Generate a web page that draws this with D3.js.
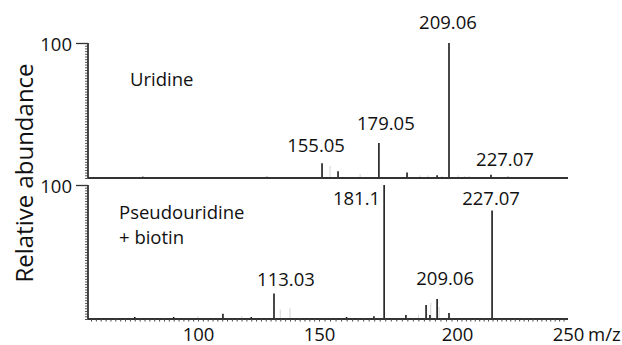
<!DOCTYPE html>
<html><head><meta charset="utf-8">
<script src="https://cdn.jsdelivr.net/npm/d3@7"></script>
<style>
body{margin:0;background:#fff}
svg{display:block}
text{font-family:"Open Sans",sans-serif;fill:#111}
</style>
</head><body>
<svg id="c" width="622" height="345"></svg>
<script>
// ---- data ----
const xTickValues = [56, 100, 150, 200, 250];       // scale anchor points (m/z as drawn)
const xTickLabels = [100, 150, 200, 250];
const yTickLabels = [100];
const panelTitles = [["Uridine"], ["Pseudouridine", "+ biotin"]];

// apparent m/z positions (as drawn on the axis) and relative abundance (%)
const uridinePos = [197.1, 171.7, 151.1, 215.3, 156.9, 181.9, 192.8, 77.3, 128.5, 223.0];
const uridineInt = [100, 26, 11, 2.5, 5, 4, 2, 1, 1, 1];
const uridineLabels = ["209.06", "179.05", "155.05", "227.07"];

const uridineNoisePos = [154.0, 164.9, 186.5, 189.5, 194.5, 200.5, 203.5, 205.5];
const uridineNoiseInt = [9, 3, 2, 2, 1.5, 2, 1.5, 1.5];

const pseudoPos = [173.6, 215.8, 131.4, 192.8, 188.8, 190.2, 197.1, 181.5, 169.9, 110.3, 74.0, 122.0, 90.0, 160.0];
const pseudoInt = [100, 81, 19, 15, 10.5, 3, 4.5, 3, 2, 4, 1.5, 1.5, 1.5, 1.5];
const pseudoLabels = ["181.1", "227.07", "113.03", "209.06"];

const pseudoNoisePos = [134.0, 138.0, 186.0, 190.5, 193.5, 100.0, 118.0];
const pseudoNoiseInt = [7, 8, 3, 12, 9, 2, 2];

// ---- layout ----
const svg = d3.select("#c");
const x = d3.scaleLinear().domain(xTickValues).range([91, 198, 319, 457, 568]);
const axisX0 = 88;
const panelsY = [[178, 43], [319, 185]];
const ys = panelsY.map(r => d3.scaleLinear().domain([0, 100]).range(r));

const labelLayout = [
  [{dx:-1,dy:-14,a:"middle"},{dx:7,dy:-13,a:"middle"},{dx:-6,dy:-11,a:"middle"},{dx:14,dy:-9,a:"middle"}],
  [{dx:-4,dy:20,a:"end"},{dx:-1,dy:-5,a:"middle"},{dx:12,dy:-8,a:"middle"},{dx:8,dy:-14,a:"middle"}]
];
const titleLayout = [{x:130, y:86, lh:0}, {x:119, y:219, lh:25}];

const series = [
  {pos: uridinePos, int: uridineInt, labels: uridineLabels, nPos: uridineNoisePos, nInt: uridineNoiseInt},
  {pos: pseudoPos, int: pseudoInt, labels: pseudoLabels, nPos: pseudoNoisePos, nInt: pseudoNoiseInt}
];

series.forEach((s, pi) => {
  const y = ys[pi];
  const g = svg.append("g");
  // faint noise
  g.selectAll("line.noise").data(s.nPos).enter().append("line")
    .attr("x1", d => x(d)).attr("x2", d => x(d))
    .attr("y1", y(0)).attr("y2", (d, i) => y(s.nInt[i]))
    .attr("stroke", "#d4d4d4").attr("stroke-width", 1);
  // peaks
  g.selectAll("line.peak").data(s.pos).enter().append("line")
    .attr("x1", d => x(d)).attr("x2", d => x(d))
    .attr("y1", y(0)).attr("y2", (d, i) => y(s.int[i]))
    .attr("stroke", "#1a1a1a").attr("stroke-width", 1.6);
  // peak labels
  s.labels.forEach((t, i) => {
    const L = labelLayout[pi][i];
    g.append("text").attr("x", x(s.pos[i]) + L.dx).attr("y", y(s.int[i]) + L.dy)
      .attr("text-anchor", L.a).attr("font-size", 18.5).text(t);
  });
  // title
  panelTitles[pi].forEach((t, k) => {
    g.append("text").attr("x", titleLayout[pi].x).attr("y", titleLayout[pi].y + k * titleLayout[pi].lh)
      .attr("font-size", 18.5).text(t);
  });
  // y axis: minor ticks
  const yMinor = d3.axisLeft(y).tickValues(d3.range(0, 100, 2)).tickSize(3).tickFormat("");
  const ga = g.append("g").attr("transform", `translate(${axisX0},0)`).call(yMinor);
  ga.select(".domain").remove();
  ga.selectAll("line").attr("stroke", "#555").attr("stroke-width", 1);
  // y axis major
  const yMajor = d3.axisLeft(y).tickValues(yTickLabels).tickSize(12).tickPadding(4);
  const gm = g.append("g").attr("transform", `translate(${axisX0},0)`).call(yMajor);
  gm.select(".domain").remove();
  gm.selectAll("line").attr("stroke", "#333").attr("stroke-width", 1.3);
  gm.selectAll("text").attr("font-size", 18.5).attr("font-family", "Open Sans").attr("fill", "#111").attr("dy", "0.4em");
  // axis lines
  g.append("line").attr("x1", axisX0).attr("x2", axisX0).attr("y1", y(100)).attr("y2", y(0))
    .attr("stroke", "#333").attr("stroke-width", 1.8);
  g.append("line").attr("x1", axisX0).attr("x2", x(250)).attr("y1", y(0)).attr("y2", y(0))
    .attr("stroke", "#333").attr("stroke-width", 1.8);
  if (pi === 1) {
    const xMinor = d3.axisBottom(x).tickValues(d3.range(56, 250, 2)).tickSize(2.5).tickFormat("");
    const gx = g.append("g").attr("transform", `translate(0,${y(0)})`).call(xMinor);
    gx.select(".domain").remove();
    gx.selectAll("line").attr("stroke", "#444").attr("stroke-width", 1);
    const xMajor = d3.axisBottom(x).tickValues(xTickLabels).tickSize(0).tickPadding(9);
    const gx2 = g.append("g").attr("transform", `translate(0,${y(0)})`).call(xMajor);
    gx2.select(".domain").remove();
    gx2.selectAll("text").attr("font-size", 18.5).attr("font-family", "Open Sans").attr("fill", "#111");
    g.append("text").attr("x", x(250) + 20).attr("y", 341).attr("font-size", 18.5).text("m/z");
  }
});

// y axis title
svg.append("text").attr("transform", "translate(33,173) rotate(-90)")
  .attr("text-anchor", "middle").attr("font-size", 24).text("Relative abundance");
</script>
</body></html>
